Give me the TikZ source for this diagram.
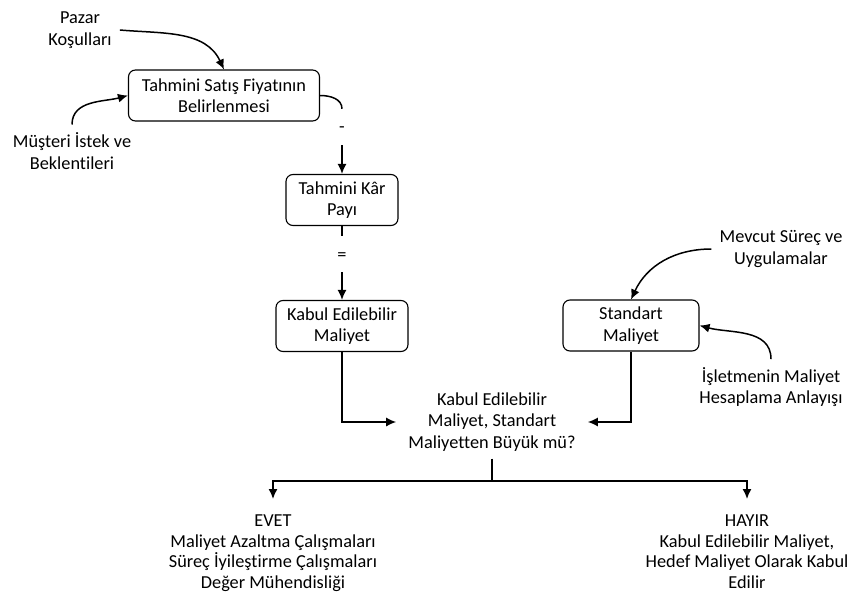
\documentclass[tikz,border=0pt]{standalone}
\usepackage{fontspec}
\setmainfont[Ligatures=NoCommon]{Carlito}
\usepackage{tikz}
\usetikzlibrary{arrows.meta}

\begin{document}
\begin{tikzpicture}[
      x=1pt, y=-1pt,
      stepbox/.style={draw, rounded corners=7pt, fill=white, align=center,
        minimum height=51pt, line width=1.1pt, inner sep=2pt},
      note/.style={align=center, inner sep=8pt},
      lbl/.style={inner sep=0pt, minimum height=36pt, text depth=0pt},
      result/.style={align=center, inner xsep=2pt, inner ysep=16pt,
        font=\fontsize{18.3}{20.5}\selectfont},
      conn/.style={line width=1.5pt},
      >={Latex[length=10pt, width=9pt]},
      font=\fontsize{18.3}{21.5}\selectfont
  ]
    \useasboundingbox (0,0) rectangle (854,597);

    % --- Estimated selling price and its inputs ---
    \node[note] (pazar) at (80, 30) {Pazar\\Koşulları};
    \node[note] (musteri) at (72, 151) {Müşteri İstek ve\\Beklentileri};
    \node[stepbox, minimum width=191pt] (tahmin) at (224, 95.5)
      {Tahmini Satış Fiyatının\\Belirlenmesi};
    \draw[conn, ->] (pazar.east) to[out=-5, in=115] (tahmin.north);
    \draw[conn, ->] (musteri.north) to[out=90, in=195] (tahmin.west);

    % --- Price - profit = acceptable cost ---
    \node[lbl, text height=10pt] (eksi) at (342, 127) {-};
    \node[stepbox, minimum width=112pt] (kar) at (342, 200) {Tahmini Kâr\\Payı};
    \node[lbl, text height=12pt] (esit) at (342, 254) {=};
    \node[stepbox, minimum width=132pt] (kabul) at (342, 326) {Kabul Edilebilir\\Maliyet};
    \draw[conn] (tahmin.east) to[out=0, in=90] (eksi.north);
    \draw[conn, ->] (eksi.south) -- (kar.north);
    \draw[conn] (kar.south) -- (esit.north);
    \draw[conn, ->] (esit.south) -- (kabul.north);

    % --- Standard cost and its inputs ---
    \node[stepbox, minimum width=136pt] (standart) at (631, 325.5) {Standart\\Maliyet};
    \node[note] (mevcut) at (781, 249) {Mevcut Süreç ve\\Uygulamalar};
    \node[note] (isletme) at (771, 387) {İşletmenin Maliyet\\Hesaplama Anlayışı};
    \draw[conn, ->] (mevcut.west) to[out=180, in=65] (standart.north);
    \draw[conn, ->] (isletme.north) to[out=90, in=-15] (standart.east);

    % --- Comparison ---
    \node[align=center, inner xsep=12pt, inner ysep=7pt] (karar) at (492, 422)
      {Kabul Edilebilir\\Maliyet, Standart\\Maliyetten Büyük mü?};
    \draw[conn, ->] (kabul.south) |- (karar.west);
    \draw[conn, ->] (standart.south) |- (karar.east);

    % --- Outcomes ---
    \coordinate (ayrim) at (492, 481);
    \node[result, anchor=north] (evet) at (273, 499)
      {EVET\\Maliyet Azaltma Çalışmaları\\Süreç İyileştirme Çalışmaları\\Değer Mühendisliği};
    \node[result, anchor=north] (hayir) at (747, 499)
      {HAYIR\\Kabul Edilebilir Maliyet,\\Hedef Maliyet Olarak Kabul\\Edilir};
    \draw[conn] (karar.south) -- (ayrim);
    \draw[conn, ->] (ayrim) -| (evet.north);
    \draw[conn, ->] (ayrim) -| (hayir.north);

\end{tikzpicture}
\end{document}
